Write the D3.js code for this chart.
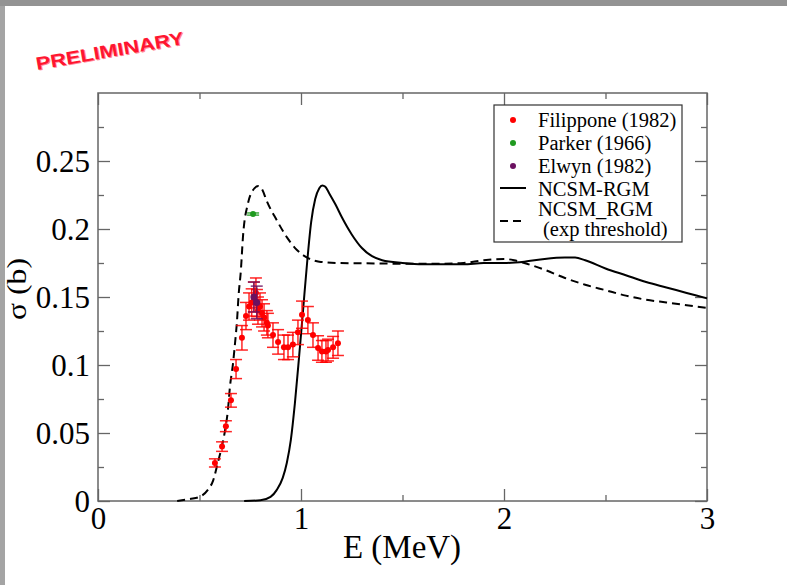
<!DOCTYPE html>
<html>
<head>
<meta charset="utf-8">
<script src="https://cdn.jsdelivr.net/npm/d3@7"></script>
<style>
  html, body { margin: 0; padding: 0; background: #fff; }
  svg { display: block; }
  .tick text { font-family: "Liberation Serif", "Times New Roman", serif; fill: #000; }
</style>
</head>
<body>
<div id="chart"></div>
<script>
const width = 787;
const height = 585;

// 目盛り
const xTicks = [0, 1, 2, 3];
const xTickLabels = ["0", "1", "2", "3"];
const xMinorTicks = [0.5, 1.5, 2.5];
const yTicks = [0, 0.05, 0.1, 0.15, 0.2, 0.25];
const yTickLabels = ["0", "0.05", "0.1", "0.15", "0.2", "0.25"];
const yMinorTicks = [0.025, 0.075, 0.125, 0.175, 0.225, 0.275];

// NCSM-RGM (実線)
const rgmE = [0.72, 0.80, 0.85, 0.88, 0.91, 0.93, 0.95, 0.97, 0.99, 1.01, 1.03, 1.05, 1.07, 1.09, 1.105, 1.12, 1.14, 1.17, 1.20, 1.25, 1.30, 1.35, 1.40, 1.50, 1.60, 1.70, 1.80, 1.90, 2.00, 2.10, 2.20, 2.30, 2.35, 2.40, 2.50, 2.60, 2.70, 2.80, 2.90, 3.00];
const rgmSigma = [0, 0.0005, 0.003, 0.008, 0.017, 0.028, 0.045, 0.072, 0.105, 0.140, 0.175, 0.205, 0.222, 0.230, 0.232, 0.231, 0.226, 0.218, 0.209, 0.196, 0.186, 0.180, 0.177, 0.175, 0.174, 0.174, 0.174, 0.175, 0.175, 0.176, 0.178, 0.179, 0.179, 0.177, 0.171, 0.166, 0.161, 0.157, 0.153, 0.149];

// NCSM_RGM (exp threshold, 破線)
const expE = [0.39, 0.453, 0.50, 0.54, 0.567, 0.59, 0.61, 0.626, 0.64, 0.65, 0.665, 0.675, 0.685, 0.692, 0.704, 0.714, 0.739, 0.764, 0.79, 0.81, 0.83, 0.88, 0.93, 0.98, 1.03, 1.09, 1.18, 1.30, 1.50, 1.70, 1.80, 1.90, 2.00, 2.05, 2.10, 2.20, 2.30, 2.40, 2.50, 2.60, 2.70, 2.80, 2.90, 3.00];
const expSigma = [0, 0.0015, 0.003, 0.008, 0.015, 0.028, 0.040, 0.052, 0.067, 0.084, 0.101, 0.116, 0.133, 0.150, 0.170, 0.194, 0.219, 0.2287, 0.2316, 0.2287, 0.221, 0.2066, 0.194, 0.1846, 0.179, 0.176, 0.175, 0.1748, 0.1745, 0.1745, 0.175, 0.177, 0.178, 0.177, 0.175, 0.170, 0.164, 0.159, 0.155, 0.151, 0.148, 0.146, 0.144, 0.142];

// Filippone (1982)
const filE = [0.576, 0.611, 0.630, 0.655, 0.680, 0.709, 0.729, 0.744, 0.757, 0.768, 0.778, 0.783, 0.788, 0.798, 0.808, 0.818, 0.832, 0.837, 0.862, 0.887, 0.916, 0.936, 0.960, 0.985, 1.005, 1.034, 1.059, 1.084, 1.103, 1.123, 1.133, 1.158, 1.182];
const filSigma = [0.028, 0.040, 0.055, 0.074, 0.097, 0.120, 0.136, 0.143, 0.146, 0.150, 0.153, 0.1455, 0.140, 0.143, 0.138, 0.135, 0.131, 0.129, 0.122, 0.117, 0.113, 0.113, 0.115, 0.124, 0.137, 0.133, 0.122, 0.1125, 0.110, 0.110, 0.111, 0.113, 0.116];
const filErr = [0.003, 0.0035, 0.004, 0.005, 0.007, 0.009, 0.010, 0.010, 0.010, 0.011, 0.011, 0.010, 0.010, 0.010, 0.010, 0.010, 0.009, 0.009, 0.009, 0.009, 0.009, 0.009, 0.009, 0.009, 0.010, 0.010, 0.009, 0.009, 0.008, 0.008, 0.008, 0.008, 0.009];

// Parker (1966)
const parE = [0.764];
const parSigma = [0.211];
const parErr = [0.0008];

// Elwyn (1982)
const elwE = [0.768, 0.782];
const elwSigma = [0.150, 0.146];
const elwErr = [0.011, 0.012];

const legendLabels = ["Filippone (1982)", "Parker (1966)", "Elwyn (1982)", "NCSM-RGM", "NCSM_RGM", "(exp threshold)"];

const red = "#ff0000";
const green = "#1f9a1f";
const purple = "#6b1060";

const svg = d3
    .select("#chart")
    .append("svg")
    .attr("width", width)
    .attr("height", height);

// 背景と灰色の縁
svg.append("rect").attr("width", width).attr("height", height).attr("fill", "#fff");
svg.append("rect").attr("x", 0).attr("y", 0).attr("width", 5).attr("height", height).attr("fill", "#a4a4a4");
svg.append("rect").attr("x", 0).attr("y", 0).attr("width", width).attr("height", 6).attr("fill", "#939393");

const x = d3.scaleLinear().domain([0, 3]).range([98, 707]);
const y = d3.scaleLinear().domain([0, 0.3]).range([501, 93]);

const frameColor = "#666";

// 目盛り (内向き, 四辺)
function styleAxis(g) {
    g.select(".domain").remove();
    g.selectAll(".tick line").attr("stroke", frameColor).attr("stroke-width", 1.3);
}

svg.append("g")
    .attr("transform", `translate(0,${y(0)})`)
    .call(d3.axisBottom(x).tickValues(xTicks).tickSizeInner(-12).tickSizeOuter(0).tickPadding(6)
        .tickFormat((d, i) => xTickLabels[i]))
    .call(styleAxis)
    .call(g => g.selectAll("text").attr("font-size", 31));

svg.append("g")
    .attr("transform", `translate(0,${y(0)})`)
    .call(d3.axisBottom(x).tickValues(xMinorTicks).tickSizeInner(-6).tickSizeOuter(0).tickFormat(""))
    .call(styleAxis);

svg.append("g")
    .attr("transform", `translate(0,${y(0.3)})`)
    .call(d3.axisTop(x).tickValues(xTicks).tickSizeInner(-12).tickSizeOuter(0).tickFormat(""))
    .call(styleAxis);

svg.append("g")
    .attr("transform", `translate(0,${y(0.3)})`)
    .call(d3.axisTop(x).tickValues(xMinorTicks).tickSizeInner(-6).tickSizeOuter(0).tickFormat(""))
    .call(styleAxis);

svg.append("g")
    .attr("transform", `translate(${x(0)},0)`)
    .call(d3.axisLeft(y).tickValues(yTicks).tickSizeInner(-12).tickSizeOuter(0).tickPadding(8)
        .tickFormat((d, i) => yTickLabels[i]))
    .call(styleAxis)
    .call(g => g.selectAll("text").attr("font-size", 31).attr("dy", "0.34em"));

svg.append("g")
    .attr("transform", `translate(${x(0)},0)`)
    .call(d3.axisLeft(y).tickValues(yMinorTicks).tickSizeInner(-6).tickSizeOuter(0).tickFormat(""))
    .call(styleAxis);

svg.append("g")
    .attr("transform", `translate(${x(3)},0)`)
    .call(d3.axisRight(y).tickValues(yTicks).tickSizeInner(-12).tickSizeOuter(0).tickFormat(""))
    .call(styleAxis);

svg.append("g")
    .attr("transform", `translate(${x(3)},0)`)
    .call(d3.axisRight(y).tickValues(yMinorTicks).tickSizeInner(-6).tickSizeOuter(0).tickFormat(""))
    .call(styleAxis);

// 枠
svg.append("rect")
    .attr("x", x(0))
    .attr("y", y(0.3))
    .attr("width", x(3) - x(0))
    .attr("height", y(0) - y(0.3))
    .attr("fill", "none")
    .attr("stroke", frameColor)
    .attr("stroke-width", 1.5);

// 曲線
const line = d3.line()
    .x(d => x(d[0]))
    .y(d => y(d[1]))
    .curve(d3.curveMonotoneX);

svg.append("path")
    .datum(expE.map((e, i) => [e, expSigma[i]]))
    .attr("d", line)
    .attr("fill", "none")
    .attr("stroke", "#000")
    .attr("stroke-width", 2)
    .attr("stroke-dasharray", "8,5");

svg.append("path")
    .datum(rgmE.map((e, i) => [e, rgmSigma[i]]))
    .attr("d", line)
    .attr("fill", "none")
    .attr("stroke", "#000")
    .attr("stroke-width", 2);

// 誤差棒つきの点
function drawPoints(es, sigmas, errs, color, r) {
    const data = es.map((e, i) => ({ e: e, s: sigmas[i], err: errs[i] }));
    const g = svg.append("g");
    const bars = g.selectAll(".bar").data(data).enter().append("g")
        .attr("stroke", color).attr("stroke-width", 1.5).attr("stroke-opacity", 0.85);
    bars.append("line")
        .attr("x1", d => x(d.e)).attr("x2", d => x(d.e))
        .attr("y1", d => y(d.s - d.err)).attr("y2", d => y(d.s + d.err));
    bars.append("line")
        .attr("x1", d => x(d.e) - 6).attr("x2", d => x(d.e) + 6)
        .attr("y1", d => y(d.s - d.err)).attr("y2", d => y(d.s - d.err));
    bars.append("line")
        .attr("x1", d => x(d.e) - 6).attr("x2", d => x(d.e) + 6)
        .attr("y1", d => y(d.s + d.err)).attr("y2", d => y(d.s + d.err));
    g.selectAll("circle").data(data).enter().append("circle")
        .attr("cx", d => x(d.e))
        .attr("cy", d => y(d.s))
        .attr("r", r)
        .attr("fill", color);
}

drawPoints(filE, filSigma, filErr, red, 3);
drawPoints(elwE, elwSigma, elwErr, purple, 3.5);
drawPoints(parE, parSigma, parErr, green, 3);

// 軸ラベル
svg.append("text")
    .attr("x", 402)
    .attr("y", 558)
    .attr("text-anchor", "middle")
    .attr("font-family", "Liberation Serif, serif")
    .attr("font-size", 33)
    .text("E (MeV)");

svg.append("text")
    .attr("transform", "translate(26,289) rotate(-90)")
    .attr("text-anchor", "middle")
    .attr("font-family", "Liberation Serif, serif")
    .attr("font-size", 28)
    .attr("textLength", 62)
    .attr("lengthAdjust", "spacingAndGlyphs")
    .text("σ (b)");

// 凡例
const legend = svg.append("g").attr("font-family", "Liberation Serif, serif").attr("font-size", 20.5);
legend.append("rect")
    .attr("x", 494).attr("y", 105).attr("width", 188).attr("height", 137)
    .attr("fill", "#fff").attr("stroke", "#333").attr("stroke-width", 1.2);

const dotColors = [red, green, purple];
dotColors.forEach(function (c, i) {
    legend.append("circle").attr("cx", 513).attr("cy", 120 + i * 23).attr("r", 3).attr("fill", c);
    legend.append("text").attr("x", 538).attr("y", 127 + i * 23).text(legendLabels[i]);
});
legend.append("line").attr("x1", 500).attr("x2", 526).attr("y1", 188).attr("y2", 188)
    .attr("stroke", "#000").attr("stroke-width", 2);
legend.append("text").attr("x", 538).attr("y", 196).text(legendLabels[3]);
legend.append("line").attr("x1", 500).attr("x2", 526).attr("y1", 221).attr("y2", 221)
    .attr("stroke", "#000").attr("stroke-width", 2).attr("stroke-dasharray", "8,5");
legend.append("text").attr("x", 538).attr("y", 216).text(legendLabels[4]);
legend.append("text").attr("x", 543).attr("y", 236).text(legendLabels[5]);

// PRELIMINARY スタンプ
const stamp = svg.append("g").attr("transform", "translate(37,70) rotate(-10)");
stamp.append("text")
    .attr("x", 1).attr("y", 1)
    .attr("font-family", "Liberation Sans, Arial, sans-serif")
    .attr("font-weight", "bold").attr("font-size", 18)
    .attr("textLength", 150).attr("lengthAdjust", "spacingAndGlyphs")
    .attr("fill", "#ff8a95")
    .text("PRELIMINARY");
stamp.append("text")
    .attr("font-family", "Liberation Sans, Arial, sans-serif")
    .attr("font-weight", "bold").attr("font-size", 18)
    .attr("textLength", 150).attr("lengthAdjust", "spacingAndGlyphs")
    .attr("fill", "#ff1530")
    .text("PRELIMINARY");
</script>
</body>
</html>
